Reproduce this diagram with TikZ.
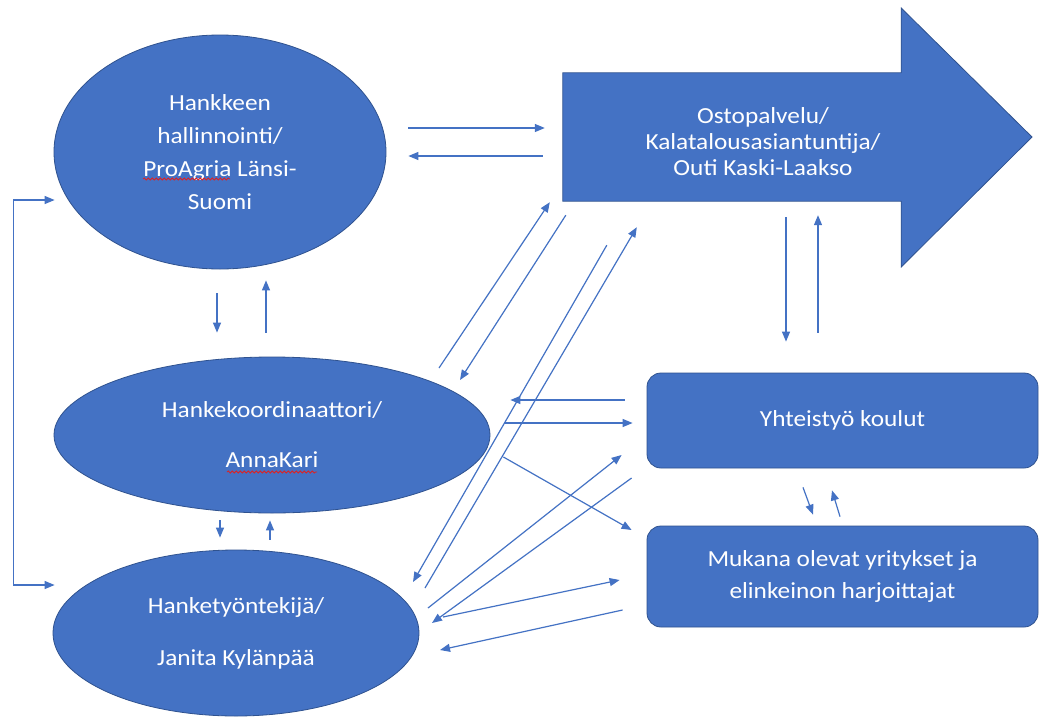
\documentclass[tikz,border=0pt]{standalone}
\usepackage{fontspec}
\setmainfont{Carlito}[FakeStretch=1.1]
\usetikzlibrary{shapes.geometric,arrows.meta,decorations.pathmorphing,calc}
\definecolor{obl}{HTML}{4472C4}
\definecolor{obd}{HTML}{2F528F}
\definecolor{squig}{HTML}{E02020}
\tikzset{
 shp/.style={fill=obl, draw=obd, line width=0.8pt, text=white, align=center, inner sep=0pt},
 oval/.style={shp, ellipse},
 rbox/.style={shp, rectangle, rounded corners=14pt},
 con/.style={draw=obl, line width=1.2pt, ->},
 >={Triangle[length=10pt,width=8pt]},
 wavy/.style={draw=squig, line width=0.8pt, decorate, decoration={snake, amplitude=1pt, segment length=4pt}},
}
\begin{document}
\begin{tikzpicture}[x=1pt,y=-1pt]
\fill[white] (0,0) rectangle (1039,718);
\useasboundingbox (0,0) rectangle (1039,718);

% shapes
\node[oval, minimum width=332pt, minimum height=234pt, font=\fontsize{23}{33}\selectfont] (e1) at (220,152)
  {Hankkeen\\hallinnointi/\\ProAgria Länsi-\\Suomi};
\node[oval, minimum width=436pt, minimum height=156pt, font=\fontsize{23}{50}\selectfont] (e2) at (272,435)
  {Hankekoordinaattori/\\AnnaKari};
\node[oval, minimum width=366pt, minimum height=166pt, font=\fontsize{23}{52}\selectfont] (e3) at (236,633)
  {Hanketyöntekijä/\\Janita Kylänpää};

\node[minimum width=338pt, minimum height=128pt, inner sep=0pt] (op) at (732,137) {};
\path[shp] (op.north west) -- (op.north east) -- (op.north east |- 0,8) -- (1032,137)
  -- (op.south east |- 0,267) -- (op.south east) -- (op.south west) -- cycle;
\node[text=white, align=center, font=\fontsize{23}{26}\selectfont] (opt) at (763,142)
  {Ostopalvelu/\\Kalatalousasiantuntija/\\Outi Kaski-Laakso};

\node[rbox, minimum width=391pt, minimum height=95pt, font=\fontsize{23}{28}\selectfont] (yk) at (842.5,420.5)
  {Yhteistyö koulut};
\node[rbox, minimum width=391pt, minimum height=101pt, font=\fontsize{23}{32}\selectfont] (mk) at (842.5,576.5)
  {Mukana olevat yritykset ja\\elinkeinon harjoittajat};

% spell-check underlines
\draw[wavy] ([shift={(-77,27)}]e1.center) -- ([shift={(10,27)}]e1.center);
\draw[wavy] ([shift={(-45,37)}]e2.center) -- ([shift={(45,37)}]e2.center);

% connectors
\draw[con] ([shift={(22,-24)}]e1.east) -- ([shift={(-18,-9)}]op.west);
\draw[con] ([shift={(-20,19)}]op.west) -- ([shift={(22,4)}]e1.east);

\draw[con] ([shift={(54,16)}]op.south) -- ([shift={(-56.5,-31)}]yk.north);
\draw[con] ([shift={(-24.5,-40)}]yk.north) -- ([shift={(86,14)}]op.south);

\draw[con] ([shift={(-3,24)}]e1.south) -- ([shift={(-55,-24)}]e2.north);
\draw[con] ([shift={(-6,-24)}]e2.north) -- ([shift={(46,11)}]e1.south);

\draw[con] ([shift={(-52,7)}]e2.south) -- ([shift={(-16,-12)}]e3.north);
\draw[con] ([shift={(34,-10)}]e3.north) -- ([shift={(-2,7)}]e2.south);

\draw[con, <->] ([shift={(1,48)}]e1.west) -- ++(-41,0) |- ([shift={(2,-48)}]e3.west);

\draw[con] ([shift={(167,-67)}]e2.center) -- ([shift={(-13,1)}]op.south west);
\draw[con] ([shift={(3,14)}]op.south west) -- ([shift={(188,-55)}]e2.center);
\draw[con] ([shift={(44,44)}]op.south west) -- ([shift={(177,-51)}]e3.center);
\draw[con] ([shift={(189,-45)}]e3.center) -- ([shift={(74,26)}]op.south west);

\draw[con] ([shift={(-22,-20.5)}]yk.west) -- ([shift={(20,-35)}]e2.east);
\draw[con] ([shift={(15,-12)}]e2.east) -- ([shift={(-14,2.5)}]yk.west);
\draw[con] ([shift={(13,22)}]e2.east) -- ([shift={(-15,-46.5)}]mk.west);
\draw[con] ([shift={(192,-25)}]e3.center) -- ([shift={(-25,34.5)}]yk.west);
\draw[con] ([shift={(-15,57.5)}]yk.west) -- ([shift={(196,-10)}]e3.center);
\draw[con] ([shift={(207,-16)}]e3.center) -- ([shift={(-27,3.5)}]mk.west);
\draw[con] ([shift={(-24,33.5)}]mk.west) -- ([shift={(204,17)}]e3.center);

\draw[con] ([shift={(-39.5,19)}]yk.south) -- ([shift={(-29.5,-11)}]mk.north);
\draw[con] ([shift={(-2.5,-9)}]mk.north) -- ([shift={(-10.5,22)}]yk.south);
\end{tikzpicture}
\end{document}
